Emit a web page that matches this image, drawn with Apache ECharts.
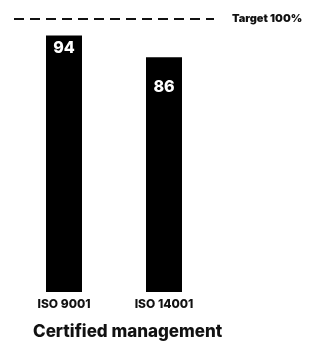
<!DOCTYPE html>
<html>
<head>
    <meta charset="utf-8">
    <title>Certified management</title>
    <script src="https://cdn.jsdelivr.net/npm/echarts/dist/echarts.min.js"></script>
    <style>
        html, body { margin: 0; padding: 0; background: #fff; }
    </style>
</head>
<body>
    <div id="chart" style="width: 315px; height: 341px;"></div>
    <script type="text/javascript">
        // data
        var categories = ['ISO 9001', 'ISO 14001'];
        var values = [94, 86];
        var target = 100;

        var chart = echarts.init(document.getElementById('chart'));
        var font = 'Inter, "DejaVu Sans", sans-serif';

        // label distance from bar top, per bar
        var labelOffsets = [5, 22];

        var option = {
            animation: false,
            title: {
                text: 'Certified management',
                left: 28,
                top: 318,
                textStyle: { fontFamily: font, fontSize: 17, fontWeight: 800, color: '#111' }
            },
            grid: { left: 14, top: 19, width: 200, bottom: 49 },
            xAxis: {
                type: 'category',
                data: categories,
                axisLine: { show: false },
                axisTick: { show: false },
                axisLabel: {
                    margin: 6,
                    fontFamily: font, fontSize: 12, fontWeight: 800, color: '#111'
                }
            },
            yAxis: {
                type: 'value',
                min: 0,
                max: 100,
                show: false,
                splitLine: { show: false }
            },
            series: [{
                type: 'bar',
                barWidth: 36,
                itemStyle: { color: '#000' },
                data: values.map(function (v, i) {
                    return {
                        value: v,
                        label: { distance: labelOffsets[i] }
                    };
                }),
                label: {
                    show: true,
                    position: 'insideTop',
                    color: '#fff',
                    fontFamily: font,
                    fontSize: 16,
                    fontWeight: 800
                },
                markLine: {
                    silent: true,
                    symbol: 'none',
                    lineStyle: { type: [10, 6], color: '#111', width: 2 },
                    label: {
                        position: 'end',
                        distance: 18,
                        formatter: 'Target ' + target + '%',
                        fontFamily: font, fontSize: 11, fontWeight: 900, color: '#111'
                    },
                    data: [{ yAxis: target }]
                }
            }]
        };

        chart.setOption(option);
    </script>
</body>
</html>
